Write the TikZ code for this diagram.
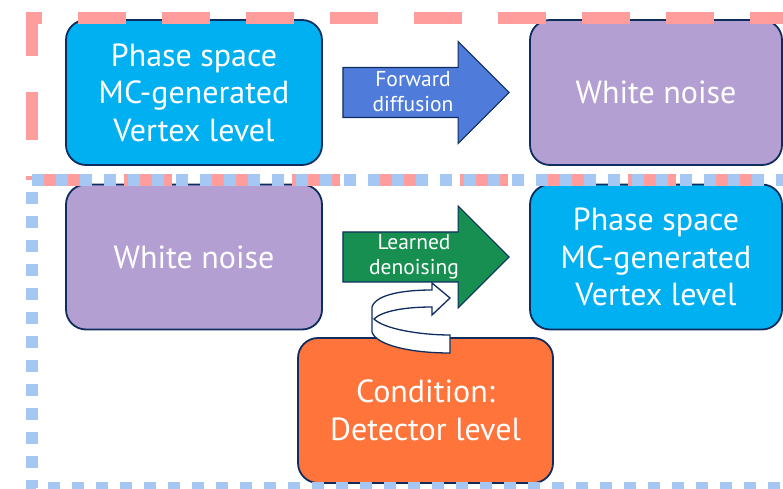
\documentclass[tikz,border=0pt]{standalone}
\usepackage{fontspec}
\setmainfont{PT Sans}
\usetikzlibrary{positioning}

\definecolor{boxcyan}{HTML}{00B0F0}
\definecolor{boxpurple}{HTML}{B39FD2}
\definecolor{boxorange}{HTML}{FF743A}
\definecolor{arrowblue}{HTML}{4F7BDA}
\definecolor{arrowgreen}{HTML}{168F50}
\definecolor{edgenavy}{HTML}{0E2D5E}
\definecolor{framered}{HTML}{FF9C9C}
\definecolor{frameblue}{HTML}{A5C7F4}

% block arrow between two boxes: from, to, fill colour
\newcommand{\blockarrow}[3]{%
  \draw[fill=#3, draw=edgenavy, line width=1.2pt, line join=miter]
    ([xshift=20pt,yshift=25pt]#1.east) -- ([xshift=-71pt,yshift=25pt]#2.west)
    -- ++(0,26) -- ([xshift=-20pt]#2.west) -- ++(-51,-51) -- ++(0,26)
    -- ([xshift=20pt,yshift=-25pt]#1.east) -- cycle;}

\begin{document}
\begin{tikzpicture}[x=1pt, y=1pt,
    box/.style={draw=edgenavy, line width=1.8pt, rounded corners=20pt,
      minimum width=256pt, minimum height=145pt, inner sep=0pt,
      text=white, align=center, font=\fontsize{32}{37.5}\selectfont},
    arrowtext/.style={text=white, align=center, inner sep=0pt,
      font=\fontsize{21.5}{25}\selectfont},
    frame/.style={line width=12pt}]
    \useasboundingbox (0,0) rectangle (783,489);

    % Boxes
    \node[box, fill=boxcyan] (mcTop) at (194,396.5) {Phase space\\MC-generated\\Vertex level};
    \node[box, fill=boxpurple, minimum width=252pt] (noiseTop) at (656,396.5) {White noise};
    \node[box, fill=boxpurple] (noiseBot) at (194,232) {White noise};
    \node[box, fill=boxcyan, minimum width=252pt] (mcBot) at (656,232) {Phase space\\MC-generated\\Vertex level};
    \node[box, fill=boxorange, minimum width=255pt] (cond) at (425.5,78.5) {Condition:\\Detector level};

    % Block arrows
    \blockarrow{mcTop}{noiseTop}{arrowblue}
    \blockarrow{noiseBot}{mcBot}{arrowgreen}
    \node[arrowtext] (fwdText) at (413,397) {Forward\\diffusion};
    \node[arrowtext] (denText) at (414,232) {Learned\\denoising};

    % Curved arrow from the condition
    \draw[fill=white, draw=edgenavy, line width=1.3pt, line join=miter]
      (372,182) .. controls (376,195) and (405,199) .. (432,199) -- (432,206)
      -- (450,191) -- (432,174) -- (432,182)
      .. controls (405,182) and (382,178) .. (374,170)
      .. controls (384,160) and (420,154) .. (450,154) -- (450,136)
      .. controls (410,136) and (376,144) .. (372,157) -- cycle;

    % Dashed frames
    \draw[frame, framered, dash pattern=on 48pt off 36pt, dash phase=44pt]
      (32,309) -- (32,471) -- (800,471) -- (800,309) -- cycle;
    \draw[frame, frameblue, dash pattern=on 12pt off 12pt] (32,309) -- (800,309);
    \draw[frame, frameblue, dash pattern=on 12pt off 12pt, dash phase=12pt]
      (32,309) -- (32,1) -- (800,1);
\end{tikzpicture}
\end{document}
